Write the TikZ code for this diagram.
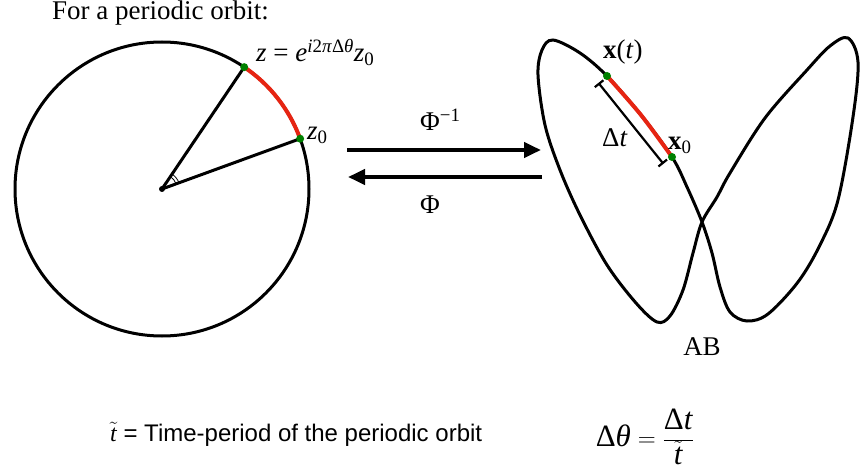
\documentclass[tikz,border=0pt]{standalone}
\usepackage{fontspec}
\setmainfont{Liberation Serif}
\newfontfamily\helv{Liberation Sans}
\usetikzlibrary{arrows.meta,calc}

\definecolor{arcred}{RGB}{230,36,18}
\definecolor{ptgreen}{RGB}{0,128,0}
\newcommand{\ital}[1]{\textit{#1}}

\begin{document}
\begin{tikzpicture}[
    x=1pt, y=-1pt,
    font=\fontsize{27}{32}\selectfont,
    curve/.style={line width=3pt},
    arr/.style={-{Triangle[length=17pt,width=15pt]}, line width=4pt},
    hit/.style={line width=4pt, arcred},
    dot/.style={fill=ptgreen},
    lab/.style={inner sep=0pt},
  ]
  \useasboundingbox (0,0) rectangle (860,473);
  \node[lab, anchor=base west] (title) at (52,20) {For a periodic orbit:};

  % unit circle side
  \coordinate (O) at (162,189);
  \coordinate (z) at ($(O)+(56:147pt)$);
  \coordinate (zz) at ($(O)+(20:147pt)$);
  \draw[curve] (O) circle (147pt);
  \draw[curve] (O) -- (z);
  \draw[curve] (O) -- (zz);
  \draw[line width=0.8pt] ($(O)+(20:15pt)$) arc[start angle=20, end angle=56, radius=15pt];
  \draw[line width=0.8pt] ($(O)+(20:18pt)$) arc[start angle=20, end angle=56, radius=18pt];
  \draw[hit] (zz) arc[start angle=20, end angle=56, radius=147pt];
  \fill[dot] (z) circle (4pt);
  \fill[dot] (zz) circle (4pt);
  \fill (O) circle (3pt);
  \node[lab, anchor=base west] (zlab) at (256,62) {\ital{z} = \ital{e}\textsuperscript{\ital{i}2\ital{π}Δ\ital{θ}}\ital{z}\textsubscript{0}};
  \node[lab, anchor=base west] (zzlab) at (307,140) {\ital{z}\textsubscript{0}};

  % the two maps
  \coordinate (fwdS) at (347,150);
  \coordinate (fwdE) at (541,150);
  \coordinate (bwdS) at (542,177);
  \coordinate (bwdE) at (348,177);
  \draw[arr] (fwdS) -- (fwdE);
  \draw[arr] (bwdS) -- (bwdE);
  \node[lab, anchor=base west] (phiinv) at (420,131) {Φ\textsuperscript{−1}};
  \node[lab, anchor=base west] (phi) at (420,214) {Φ};

  % orbit side
  \coordinate (xt) at (607,76);
  \coordinate (xz) at (672,157);
  \draw[curve] plot[smooth cycle, tension=0.55] coordinates {
    (672,157) (687,187) (702,222) (712,253) (720,287) (730,312) (747,321)
    (768,314) (798,282) (820,245) (838,200) (853,117) (858,62) (848,38)
    (830,46) (807,70) (765,118) (730,173) (717,197) (702,222) (693,253)
    (683,290) (670,316) (657,322) (636,303) (607,265) (580,215) (560,170)
    (545,125) (538,75) (542,50) (553,40) (580,53) (607,76) (641,115)};
  \draw[hit] plot[smooth, tension=0.55] coordinates {(607,76) (641,115) (672,157)};
  \fill[dot] (xt) circle (4pt);
  \fill[dot] (xz) circle (4pt);
  \coordinate (dtA) at ($(xt)!11pt!-90:(xz)$);
  \coordinate (dtB) at ($(xz)!11pt!90:(xt)$);
  \draw[{Bar[width=11pt]}-{Bar[width=11pt]}, line width=2.2pt] (dtA) -- (dtB);
  \node[lab, anchor=base west] (xtlab) at (603,59) {\textbf{x}(\ital{t})};
  \node[lab, anchor=base west] (xzlab) at (668,150) {\textbf{x}\textsubscript{0}};
  \node[lab, anchor=base west] (dtlab) at (602,147) {Δ\ital{t}};
  \node[lab, anchor=base] (ablab) at (702,355) {AB};

  \node[lab, anchor=base west, font=\helv\fontsize{24}{28}\selectfont] (defn) at (110,441) {$\tilde{\mbox{\rmfamily\itshape t}}$ = Time-period of the periodic orbit};
  \node[lab, font=\fontsize{31}{36}\selectfont] (ratio) at (645,437) {$\displaystyle \mbox{Δ\ital{θ}} = \frac{\mbox{Δ\ital{t}}}{\tilde{\mbox{\ital{t}}}}$};
\end{tikzpicture}
\end{document}
